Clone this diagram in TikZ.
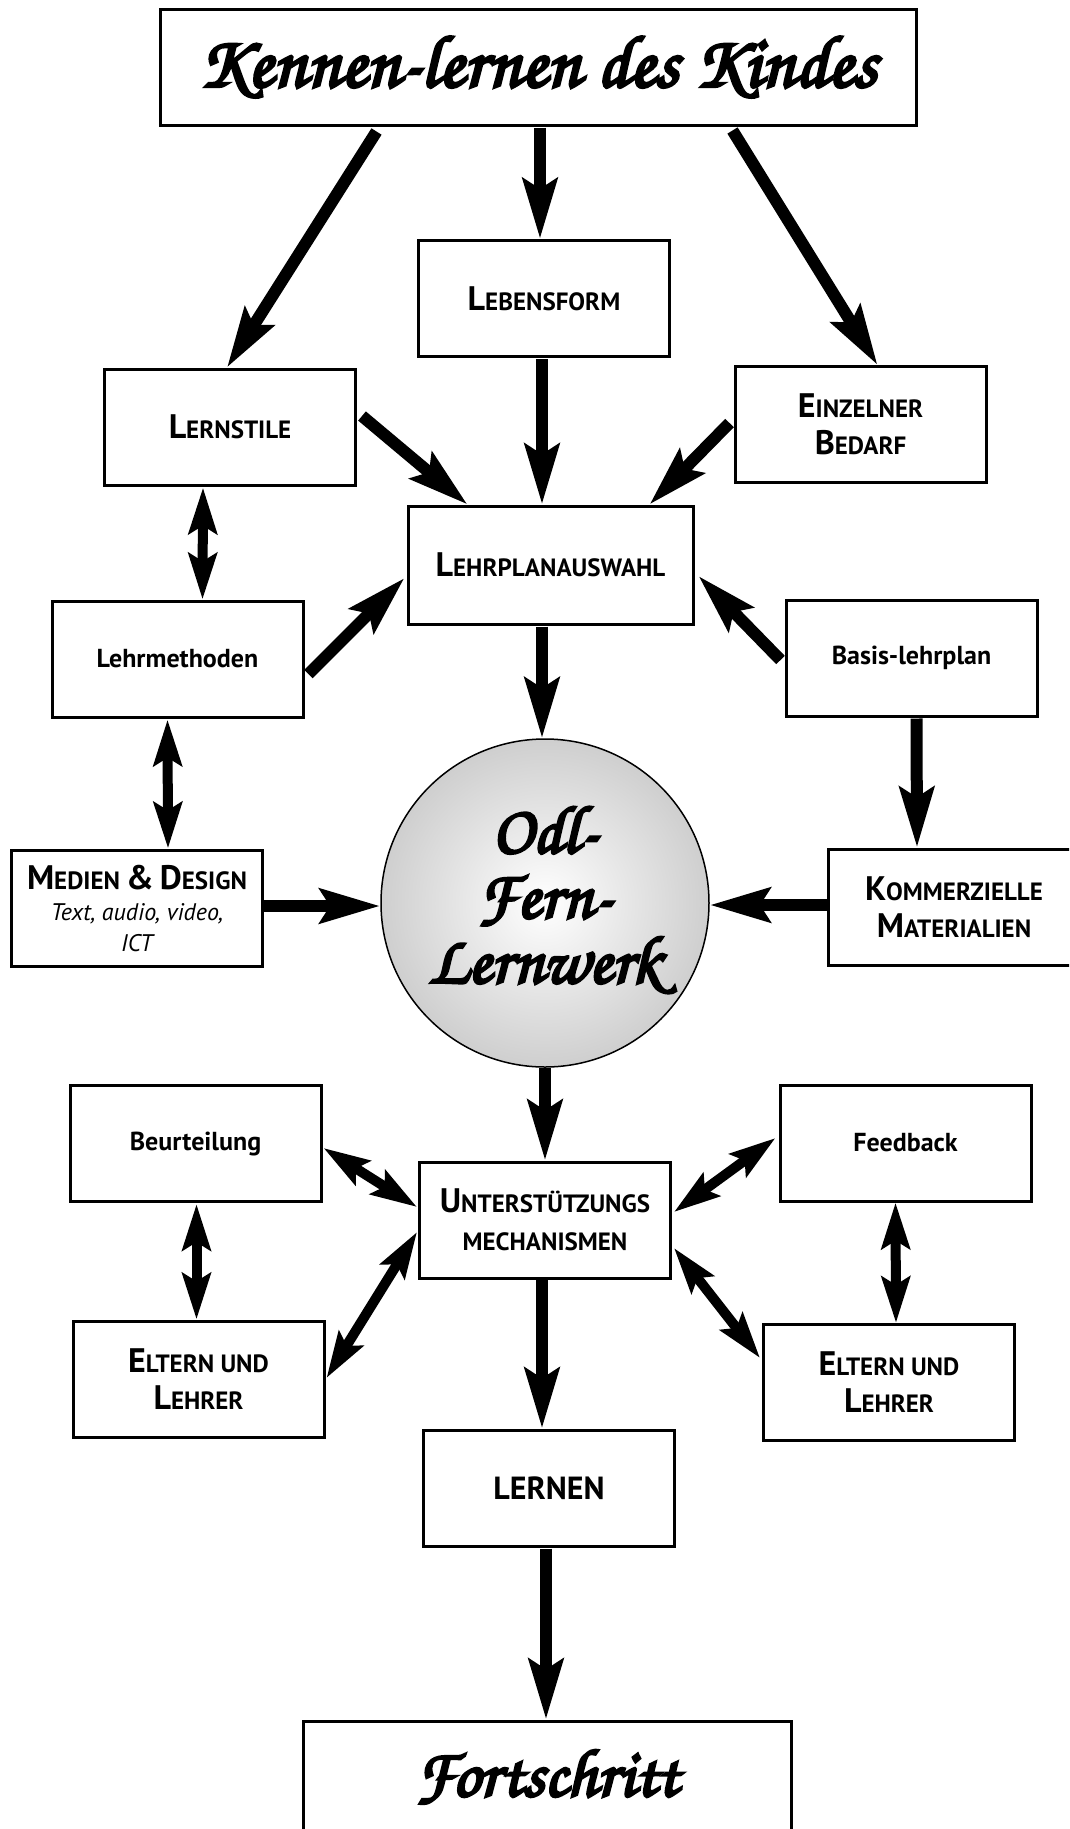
\documentclass[tikz,border=0pt]{standalone}
\usepackage{fontspec}
\setmainfont{PT Sans}
\newfontfamily\scr[FakeBold=4]{texgyrechorus-mediumitalic.otf}
\usetikzlibrary{arrows.meta,calc,shadings}
\newcommand{\bigc}[1]{{\fontsize{34}{37}\selectfont #1}}
\newcommand{\smc}[1]{{\fontsize{25}{37}\selectfont #1}}
\pgfdeclareradialshading{ballshade}{\pgfpoint{0bp}{0bp}}{color(0bp)=(white); color(50bp)=(black!38); color(75bp)=(black!38)}
\begin{document}
\begin{tikzpicture}[x=1pt,y=-1pt,
  box/.style={draw, line width=3pt, fill=white, inner sep=0pt, align=center,
    minimum width=251pt, minimum height=116pt,
    font=\fontsize{25}{37}\selectfont\bfseries},
  plain/.style={font=\fontsize{26}{30}\selectfont\bfseries},
  mainarr/.style={line width=12pt, -{Stealth[length=60pt,width=34pt,inset=10pt]}},
  biarr/.style={line width=10pt, {Stealth[length=46pt,width=28pt,inset=8pt]}-{Stealth[length=46pt,width=28pt,inset=8pt]}},
  scriptfont/.style={font=\scr\fontsize{74}{70}\selectfont}
]
\useasboundingbox (0,0) rectangle (1069,1829);
\begin{scope}
\clip (0,0) rectangle (1069,1829);
% nodes
\node[box, minimum width=756pt, scriptfont] (title) at (538,67) {Kennen-lernen des Kindes};
\node[box] (lebensform) at (544,298.5) {\bigc{L}\smc{EBENSFORM}};
\node[box] (lernstile) at (230,427) {\bigc{L}\smc{ERNSTILE}};
\node[box] (einzelner) at (860.5,424.5) {\bigc{E}\smc{INZELNER}\\\bigc{B}\smc{EDARF}};
\node[box, minimum width=285pt, minimum height=118pt] (lehrplan) at (550.5,565) {\bigc{L}\smc{EHRPLANAUSWAHL}};
\node[box, plain] (lehrmethoden) at (177.5,659) {Lehrmethoden};
\node[box, plain] (basis) at (911.5,658) {Basis-lehrplan};
\node[box, font=\fontsize{24}{31}\selectfont\bfseries] (medien) at (137,908)
  {\bigc{M}\smc{EDIEN} \bigc{\&} \bigc{D}\smc{ESIGN}\\{\mdseries\itshape Text, audio, video,}\\{\mdseries\itshape ICT}};
\node[circle, draw, line width=1.5pt, minimum size=328pt, inner sep=0pt, shading=ballshade] (ball) at (545,903) {};
\node[align=center, font=\scr\fontsize{68}{65}\selectfont, inner sep=0pt] (balltext) at ([yshift=3]ball.center) {Odl-\\Fern-\\Lernwerk};
\node[box] (kommerz) at (954,907) {\bigc{K}\smc{OMMERZIELLE}\\\bigc{M}\smc{ATERIALIEN}};
\node[box, plain] (beurteilung) at (195.5,1143.5) {Beurteilung};
\node[box, font=\fontsize{25}{38}\selectfont\bfseries] (unterst) at (545,1220) {\bigc{U}\smc{NTERSTÜTZUNGS}\\\smc{MECHANISMEN}};
\node[box, plain] (feedback) at (905.5,1143) {Feedback};
\node[box] (elternL) at (198.5,1379) {\bigc{E}\smc{LTERN UND}\\\bigc{L}\smc{EHRER}};
\node[box] (elternR) at (889,1382.5) {\bigc{E}\smc{LTERN UND}\\\bigc{L}\smc{EHRER}};
\node[box, font=\fontsize{32}{36}\selectfont\bfseries] (lernen) at (549,1488) {LERNEN};
\node[box, minimum width=488pt, font=\scr\fontsize{68}{70}\selectfont, text depth=0pt] (fort) at (547,1779) {\raisebox{12pt}{Fortschritt}};
% arrows
\draw[mainarr] ([shift={(218,5)}]title.south west) -- ([shift={(124,0)}]lernstile.north west);
\draw[mainarr] ([shift={(2,1)}]title.south) -- ([shift={(-4,0)}]lebensform.north);
\draw[mainarr] ([shift={(-185,4)}]title.south east) -- ([shift={(144,0)}]einzelner.north west);
\draw[mainarr] ([shift={(5,-11)}]lernstile.east) -- ([shift={(61,0)}]lehrplan.north west);
\draw[mainarr] ([shift={(-2,1)}]lebensform.south) -- ([shift={(-8.5,0)}]lehrplan.north);
\draw[mainarr] ([shift={(-4,-1.5)}]einzelner.west) -- ([shift={(-45,0)}]lehrplan.north east);
\draw[biarr] ([shift={(100,1)}]lernstile.south west) -- ([shift={(152,0)}]lehrmethoden.north west);
\draw[mainarr] ([shift={(4,15)}]lehrmethoden.east) -- ([shift={(-2,13)}]lehrplan.west);
\draw[mainarr] ([shift={(-4,2)}]basis.west) -- ([shift={(4,11)}]lehrplan.east);
\draw[mainarr] ([shift={(-8.5,1)}]lehrplan.south) -- ([shift={(-3,0)}]ball.north);
\draw[biarr] ([shift={(117,1)}]lehrmethoden.south west) -- ([shift={(158,0)}]medien.north west);
\draw[mainarr] ([shift={(132,1)}]basis.south west) -- ([shift={(90,0)}]kommerz.north west);
\draw[mainarr] ([shift={(0,-2)}]medien.east) -- ([shift={(0,3)}]ball.west);
\draw[mainarr] ([shift={(0,-2)}]kommerz.west) -- ([shift={(0,2)}]ball.east);
\draw[mainarr] (ball.south) -- (unterst.north);
\draw[biarr] ([shift={(1,4.5)}]beurteilung.east) -- ([shift={(-1,-13)}]unterst.west);
\draw[biarr] ([shift={(-3,-5)}]feedback.west) -- ([shift={(2,-8)}]unterst.east);
\draw[biarr] ([shift={(128,1)}]beurteilung.south west) -- ([shift={(125,0)}]elternL.north west);
\draw[biarr] ([shift={(117,0)}]feedback.south west) -- ([shift={(134,0)}]elternR.north west);
\draw[biarr] ([shift={(-1,12)}]unterst.west) -- ([shift={(1,-1)}]elternL.east);
\draw[biarr] ([shift={(2,28)}]unterst.east) -- ([shift={(-2,-24.5)}]elternR.west);
\draw[mainarr] ([shift={(-3,0)}]unterst.south) -- ([shift={(-7,0)}]lernen.north);
\draw[mainarr] ([shift={(-3,1)}]lernen.south) -- ([shift={(-1,0)}]fort.north);
\end{scope}
\end{tikzpicture}
\end{document}
